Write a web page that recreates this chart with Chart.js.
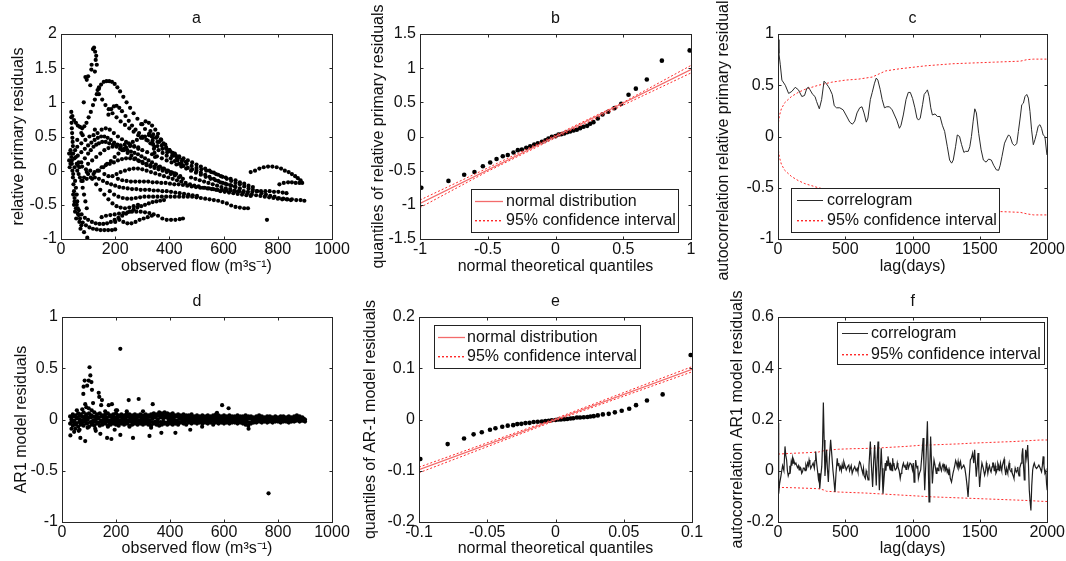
<!DOCTYPE html>
<html>
<head>
<meta charset="utf-8">
<script src="https://cdn.jsdelivr.net/npm/chart.js@4.4.1/dist/chart.umd.min.js"></script>
<style>
  body { margin: 0; background: #fff; }
  #wrap { position: relative; width: 1066px; height: 561px; overflow: hidden; }
  canvas { position: absolute; }
</style>
</head>
<body>
<div id="wrap">
  <canvas id="pa" width="360" height="280" style="left:0px;top:0px"></canvas>
  <canvas id="pb" width="352" height="280" style="left:360px;top:0px"></canvas>
  <canvas id="pc" width="354" height="280" style="left:712px;top:0px"></canvas>
  <canvas id="pd" width="360" height="281" style="left:0px;top:280px"></canvas>
  <canvas id="pe" width="352" height="281" style="left:360px;top:280px"></canvas>
  <canvas id="pf" width="354" height="281" style="left:712px;top:280px"></canvas>
</div>
<script>
// ---------- panel a : relative primary residuals vs observed flow ----------
const aTop = [[38,0.86],[42,0.8],[48,0.74],[55,0.7],[62,0.66],[70,0.64],[78,0.62],[86,0.65],[94,0.7],[102,0.78],[110,0.86],[118,0.96],[125,1.04],[132,1.12],[140,1.2],[148,1.26],[158,1.3],[168,1.31],[178,1.31],[188,1.3],[198,1.27],[208,1.22],[218,1.16],[230,1.08],[242,1.0],[255,0.92],[268,0.84],[282,0.76],[296,0.68],[310,0.61],[325,0.54],[340,0.48],[356,0.42],[372,0.37],[388,0.32],[404,0.28],[420,0.25],[436,0.21],[452,0.18],[468,0.15],[484,0.12],[500,0.09],[516,0.06],[532,0.03],[548,0.0],[564,-0.03],[580,-0.06],[596,-0.09],[612,-0.12],[628,-0.15],[644,-0.18],[660,-0.2],[676,-0.23],[692,-0.26],[708,-0.28],[724,-0.3],[740,-0.33],[756,-0.35],[772,-0.37],[788,-0.38],[804,-0.4],[820,-0.41],[836,-0.42],[852,-0.42],[868,-0.43],[884,-0.43],[898,-0.44]];
const aSpike = [[100,1.38],[108,1.25],[113,1.55],[118,1.78],[122,1.8],[126,1.74],[130,1.68],[128,1.62],[132,1.55],[112,1.48],[125,1.45],[90,1.37],[95,1.33],[140,1.22],[135,1.18],[84,1.0],[75,0.55]];
const aInner1 = [[140,1.12],[152,1.04],[164,0.96],[176,0.9],[190,0.84],[205,0.78],[220,0.72],[236,0.67],[252,0.62],[268,0.57],[285,0.52],[302,0.48],[320,0.44],[338,0.4],[356,0.36],[374,0.32],[392,0.27],[410,0.22],[428,0.18],[446,0.14],[464,0.1],[482,0.07],[500,0.04],[518,0.02],[536,0.0],[554,-0.02],[572,-0.05],[590,-0.08],[608,-0.1],[626,-0.12],[644,-0.14],[660,-0.17],[676,-0.19],[692,-0.22],[708,-0.24]];
const aInner2 = [[175,0.82],[185,0.9],[195,0.94],[205,0.95],[215,0.92],[225,0.87],[238,0.8],[250,0.73],[262,0.66],[275,0.6],[288,0.55],[300,0.5],[315,0.45],[330,0.4],[345,0.35],[360,0.3],[375,0.26],[390,0.22],[405,0.18],[420,0.14],[436,0.1],[452,0.07],[468,0.04],[484,0.02],[500,0.0],[516,-0.03],[532,-0.06],[548,-0.09],[564,-0.12],[580,-0.15],[596,-0.18],[612,-0.2],[628,-0.22],[644,-0.24],[660,-0.26]];
const aKnot = [[300,0.68],[312,0.72],[324,0.7],[336,0.66],[348,0.6],[358,0.54],[368,0.46],[378,0.4],[388,0.34],[400,0.3],[412,0.26],[424,0.22],[436,0.19],[448,0.16],[460,0.13],[335,0.5],[338,0.44],[340,0.38],[343,0.32],[345,0.26],[347,0.2],[330,0.58],[352,0.48],[362,0.42]];
const aMid1 = [[40,0.15],[50,0.18],[62,0.22],[75,0.27],[88,0.32],[100,0.37],[112,0.41],[124,0.45],[136,0.48],[148,0.5],[160,0.5],[172,0.48],[184,0.45],[196,0.41],[208,0.38],[220,0.35],[232,0.32],[245,0.3],[258,0.28],[271,0.26],[284,0.24],[297,0.21],[310,0.18],[323,0.15],[336,0.12],[350,0.09],[365,0.06],[380,0.03],[395,0.0],[410,-0.03],[425,-0.05],[440,-0.08]];
const aMid2 = [[50,0.05],[62,0.08],[75,0.12],[88,0.18],[100,0.25],[110,0.3],[120,0.35],[130,0.38],[140,0.4],[152,0.42],[165,0.42],[178,0.4],[192,0.38],[205,0.35],[218,0.32],[232,0.3],[246,0.26],[260,0.22],[274,0.18],[288,0.14],[302,0.11],[316,0.08],[330,0.06],[345,0.04],[360,0.02],[375,0.0],[390,-0.02],[405,-0.05],[420,-0.07],[435,-0.1],[450,-0.12]];
const aMid3 = [[45,0.25],[55,0.2],[65,0.12],[78,0.06],[92,0.02],[108,0.0],[124,-0.02],[140,0.0],[156,0.05],[170,0.1],[184,0.14],[198,0.2],[212,0.25],[226,0.3],[240,0.34],[255,0.36],[270,0.36],[285,0.34]];
const aMid4 = [[60,0.35],[75,0.4],[90,0.45],[105,0.5],[120,0.52],[135,0.55],[150,0.6],[165,0.62],[180,0.6],[195,0.55],[210,0.5],[225,0.46],[240,0.42],[255,0.38],[270,0.35],[285,0.32],[300,0.3],[318,0.27],[336,0.24],[354,0.21],[372,0.18],[390,0.15],[408,0.12],[426,0.09],[444,0.06],[462,0.03],[480,0.0],[498,-0.03],[516,-0.06],[534,-0.09],[552,-0.12],[570,-0.14],[588,-0.17],[606,-0.19],[624,-0.21],[642,-0.23]];
const aMid5 = [[100,0.1],[115,0.15],[130,0.2],[145,0.25],[160,0.3],[175,0.33],[190,0.35],[205,0.36],[220,0.37],[235,0.38],[250,0.4],[265,0.42],[280,0.45],[295,0.48],[310,0.5],[325,0.52],[340,0.53],[355,0.5],[370,0.45],[385,0.38],[400,0.3],[415,0.22],[430,0.15],[445,0.1]];
const aMid6 = [[120,-0.05],[135,0.0],[150,0.05],[165,0.08],[180,0.1],[195,0.12],[210,0.15],[225,0.17],[240,0.18],[255,0.18],[270,0.17],[285,0.15],[300,0.13],[315,0.1],[330,0.08],[345,0.06],[360,0.05],[375,0.03],[390,0.0],[405,-0.02],[420,-0.04]];
const aZero1 = [[160,-0.05],[175,-0.08],[190,-0.08],[205,-0.05],[220,-0.02],[236,0.0],[252,0.02],[268,0.03],[284,0.03],[300,0.02],[316,0.0],[332,-0.02],[348,-0.04],[364,-0.06],[380,-0.08],[396,-0.1],[412,-0.12],[428,-0.14],[444,-0.16],[460,-0.18],[476,-0.2],[492,-0.22],[508,-0.23],[524,-0.25],[540,-0.26],[556,-0.27],[572,-0.28],[588,-0.3],[604,-0.31],[620,-0.32],[636,-0.33],[652,-0.34],[668,-0.35],[684,-0.36],[700,-0.37]];
const aZero2 = [[210,-0.12],[226,-0.14],[242,-0.15],[258,-0.16],[274,-0.16],[290,-0.16],[306,-0.16],[322,-0.16],[338,-0.17],[354,-0.17],[370,-0.18],[386,-0.18],[402,-0.19],[418,-0.2],[434,-0.2],[450,-0.21],[466,-0.22],[482,-0.23],[498,-0.24],[514,-0.25],[530,-0.25],[546,-0.26],[562,-0.27],[578,-0.28],[594,-0.28],[610,-0.29],[626,-0.29],[642,-0.3],[658,-0.3],[674,-0.3],[690,-0.31],[706,-0.31],[722,-0.3],[738,-0.3],[754,-0.3],[770,-0.3],[786,-0.31],[802,-0.31],[818,-0.32],[832,-0.33]];
const aZero3 = [[80,-0.15],[95,-0.12],[110,-0.1],[125,-0.1],[140,-0.12],[155,-0.15],[170,-0.18],[185,-0.2],[200,-0.22],[215,-0.24],[230,-0.25],[246,-0.26],[262,-0.27],[278,-0.27],[294,-0.28],[310,-0.28],[326,-0.28],[342,-0.29],[358,-0.29],[374,-0.3],[390,-0.3],[406,-0.31],[422,-0.32],[438,-0.33],[454,-0.34],[470,-0.35],[486,-0.36],[502,-0.37]];
const aZero4 = [[480,-0.1],[496,-0.12],[512,-0.14],[528,-0.16],[544,-0.18],[560,-0.2],[576,-0.22],[592,-0.24],[608,-0.26],[624,-0.27],[640,-0.29],[656,-0.3],[672,-0.32],[688,-0.33],[704,-0.35],[720,-0.36],[736,-0.37],[752,-0.38],[768,-0.39],[784,-0.4],[800,-0.41],[816,-0.42],[832,-0.42],[848,-0.43]];
const aLoopRight = [[700,-0.02],[716,0.0],[732,0.03],[748,0.05],[764,0.06],[780,0.06],[796,0.05],[812,0.03],[826,0.0],[840,-0.02],[852,-0.05],[864,-0.08],[874,-0.11],[884,-0.14],[890,-0.18],[880,-0.18],[866,-0.18],[852,-0.17],[838,-0.17],[822,-0.18],[806,-0.2]];
const aLow1 = [[180,-0.3],[196,-0.35],[212,-0.38],[228,-0.4],[244,-0.41],[260,-0.41],[276,-0.4],[292,-0.39],[308,-0.38],[324,-0.38],[340,-0.38],[356,-0.38],[372,-0.38],[388,-0.38],[404,-0.38],[420,-0.38],[436,-0.38],[452,-0.38],[468,-0.38],[484,-0.38],[500,-0.39],[516,-0.4],[532,-0.41],[548,-0.42],[564,-0.43],[580,-0.44],[596,-0.46],[612,-0.48],[628,-0.51],[644,-0.53],[660,-0.54],[676,-0.55],[690,-0.55]];
const aLow2 = [[45,-0.35],[50,-0.45],[55,-0.55],[62,-0.63],[70,-0.7],[80,-0.76],[92,-0.8],[105,-0.83],[118,-0.85],[132,-0.86],[146,-0.87],[160,-0.87],[174,-0.87],[188,-0.87],[200,-0.86]];
const aLow3 = [[58,-0.5],[66,-0.58],[76,-0.64],[88,-0.69],[100,-0.72],[114,-0.75],[128,-0.77],[142,-0.78],[156,-0.78],[170,-0.77],[184,-0.75],[198,-0.72],[212,-0.69],[226,-0.66],[240,-0.63],[254,-0.6],[268,-0.57],[282,-0.54],[296,-0.52],[310,-0.5],[324,-0.48],[338,-0.46],[352,-0.45],[366,-0.44],[380,-0.43]];
const aLow4 = [[150,-0.68],[166,-0.66],[182,-0.65],[198,-0.64],[214,-0.63],[230,-0.62],[246,-0.61],[262,-0.6],[278,-0.6],[294,-0.6],[310,-0.61],[326,-0.62],[342,-0.64],[358,-0.66],[374,-0.7],[390,-0.72],[406,-0.72],[422,-0.72],[438,-0.71],[450,-0.7],[200,-0.75],[215,-0.72],[230,-0.75],[245,-0.77],[260,-0.77],[275,-0.75],[290,-0.72],[305,-0.7],[320,-0.68],[335,-0.66]];
const aLow5 = [[100,-0.05],[115,-0.12],[130,-0.2],[145,-0.28],[160,-0.35],[175,-0.42],[190,-0.48],[205,-0.52],[220,-0.54],[236,-0.55],[252,-0.54],[268,-0.52],[284,-0.5]];
const aLeft = [[35,0.3],[38,0.2],[40,0.1],[42,0.0],[44,-0.1],[46,-0.2],[48,-0.3],[50,-0.4],[40,0.25],[45,-0.05],[52,-0.15],[55,-0.25],[58,-0.35],[60,-0.45],[62,-0.55],[65,-0.65],[68,-0.75],[72,-0.85],[75,-0.8],[35,0.1],[30,0.15],[32,0.05],[60,0.0],[65,-0.05],[70,-0.1],[58,0.1],[80,-0.25],[85,-0.35],[90,-0.45],[95,-0.55],[38,0.78],[39,0.7],[40,0.62],[41,0.55],[42,0.48],[43,0.42],[44,0.36],[52,-0.6],[56,-0.7],[48,-0.5],[75,-0.15],[85,-0.1],[95,-0.02],[68,0.05],[30,0.25],[52,0.3]];
const aOutliers = [[97,-0.98],[85,-0.9],[760,-0.72],[80,0.52],[125,0.6],[60,0.45]];

// ---------- panel b : QQ plot of relative primary residuals ----------
const qqTheoB = [-0.99,-0.79,-0.674,-0.598,-0.536,-0.482,-0.435,-0.389,-0.352,-0.31,-0.278,-0.248,-0.216,-0.187,-0.157,-0.13,-0.1,-0.074,-0.052,-0.027,0,0.022,0.042,0.064,0.086,0.108,0.133,0.157,0.182,0.207,0.234,0.256,0.28,0.312,0.347,0.389,0.435,0.485,0.539,0.593,0.674,0.785,0.99];
const qqResB = [-0.75,-0.65,-0.56,-0.52,-0.435,-0.38,-0.33,-0.29,-0.27,-0.235,-0.2,-0.19,-0.165,-0.145,-0.117,-0.098,-0.078,-0.054,-0.03,-0.005,0.005,0.03,0.034,0.044,0.064,0.073,0.088,0.098,0.122,0.142,0.156,0.186,0.21,0.264,0.322,0.362,0.415,0.48,0.61,0.7,0.835,1.11,1.26];
const refXB = [-1, 1];
const refYB = [-0.98, 0.98];
const ciXB = [-1, -0.5, 0, 0.5, 1];
const ciHiB = [-0.93, -0.46, 0.02, 0.5, 1.04];
const ciLoB = [-1.04, -0.51, -0.02, 0.46, 0.93];

// ---------- panel c : correlogram of relative primary residuals ----------
const lagC = [0,7,17,29,54,79,103,128,152,177,197,214,226,238,258,275,287,307,324,342,356,373,386,403,418,435,459,484,509,533,553,570,587,607,624,639,656,668,686,700,717,730,742,759,774,791,808,828,848,865,882,902,914,931,951,968,983,1000,1017,1032,1044,1057,1074,1086,1103,1110,1123,1135,1147,1167,1184,1204,1221,1238,1258,1275,1290,1302,1319,1332,1349,1364,1381,1393,1413,1425,1437,1450,1462,1474,1491,1509,1526,1546,1565,1585,1602,1622,1639,1651,1664,1683,1700,1713,1725,1742,1757,1774,1786,1799,1811,1823,1835,1848,1860,1872,1884,1897,1909,1921,1933,1946,1958,1970,1983,1998];
const acfC = [0.945,0.81,0.7,0.55,0.5,0.42,0.44,0.48,0.455,0.39,0.4,0.47,0.48,0.455,0.41,0.39,0.34,0.27,0.36,0.54,0.52,0.49,0.46,0.41,0.3,0.28,0.28,0.26,0.2,0.14,0.12,0.15,0.23,0.28,0.29,0.23,0.14,0.18,0.36,0.43,0.52,0.57,0.55,0.46,0.36,0.28,0.29,0.29,0.26,0.21,0.16,0.08,0.11,0.21,0.36,0.43,0.43,0.37,0.28,0.18,0.16,0.18,0.31,0.41,0.44,0.455,0.39,0.28,0.21,0.22,0.195,0.195,0.11,0.05,-0.1,-0.23,-0.26,-0.23,-0.1,0.015,0.0,-0.08,-0.155,-0.145,-0.145,-0.1,0.0,0.15,0.27,0.23,0.03,-0.13,-0.23,-0.25,-0.22,-0.23,-0.28,-0.325,-0.33,-0.28,-0.195,-0.065,-0.016,0.016,0.0,-0.07,-0.088,-0.07,0.05,0.18,0.31,0.325,0.39,0.41,0.375,0.245,0.065,-0.08,-0.03,0.03,0.1,0.115,0.08,0.015,0.0,-0.18];
const ciLagC = [0,10,25,50,100,150,200,250,300,350,400,500,600,700,750,800,900,1000,1100,1200,1300,1400,1500,1600,1700,1800,1850,1900,2000];
const ciHiC = [0.1,0.2,0.27,0.33,0.39,0.43,0.46,0.48,0.5,0.515,0.53,0.55,0.56,0.58,0.61,0.64,0.66,0.675,0.69,0.7,0.71,0.715,0.72,0.725,0.73,0.735,0.75,0.755,0.755];
const ciLoC = [-0.1,-0.2,-0.27,-0.33,-0.39,-0.43,-0.46,-0.48,-0.5,-0.515,-0.53,-0.55,-0.56,-0.58,-0.61,-0.64,-0.66,-0.675,-0.69,-0.7,-0.71,-0.72,-0.725,-0.73,-0.735,-0.74,-0.755,-0.765,-0.765];

// ---------- panel d : AR1 model residuals vs observed flow ----------
const dBandTop = [[30,0.03],[40,0.05],[50,0.04],[60,0.06],[70,0.05],[80,0.07],[90,0.05],[100,0.06],[110,0.04],[120,0.07],[130,0.05],[140,0.06],[150,0.04],[160,0.05],[170,0.06],[180,0.04],[190,0.05],[200,0.06],[210,0.04],[220,0.05],[230,0.04],[240,0.06],[250,0.05],[260,0.04],[270,0.05],[280,0.04],[290,0.05],[300,0.04],[310,0.05],[320,0.04],[330,0.05],[340,0.06],[350,0.05],[360,0.07],[370,0.06],[380,0.07],[390,0.06],[400,0.05],[410,0.06],[420,0.04],[430,0.05],[440,0.04],[450,0.05],[460,0.04],[470,0.04],[480,0.05],[490,0.03],[500,0.04],[510,0.03],[520,0.04],[530,0.03],[540,0.04],[550,0.03],[560,0.04],[570,0.05],[580,0.04],[590,0.03],[600,0.04],[610,0.03],[620,0.04],[630,0.03],[640,0.03],[650,0.04],[660,0.03],[670,0.03],[680,0.04],[690,0.03],[700,0.03],[710,0.02],[720,0.03],[730,0.04],[740,0.03],[750,0.02],[760,0.03],[770,0.03],[780,0.02],[790,0.03],[800,0.02],[810,0.03],[820,0.03],[830,0.02],[840,0.03],[850,0.02],[860,0.03],[870,0.04],[880,0.03],[890,0.02]];
const dBandUpper = [[35,0.025],[45,0.03],[55,0.02],[65,0.035],[75,0.025],[85,0.03],[95,0.02],[105,0.035],[115,0.025],[125,0.03],[135,0.02],[145,0.03],[155,0.025],[165,0.02],[175,0.03],[185,0.025],[195,0.02],[205,0.03],[215,0.025],[225,0.02],[235,0.03],[245,0.025],[255,0.02],[265,0.03],[275,0.02],[285,0.025],[295,0.02],[305,0.03],[315,0.02],[325,0.025],[335,0.035],[345,0.04],[355,0.035],[365,0.04],[375,0.035],[385,0.04],[395,0.03],[405,0.035],[415,0.025],[425,0.03],[435,0.02],[445,0.025],[455,0.02],[465,0.025],[475,0.02],[485,0.02],[495,0.015],[505,0.02],[515,0.015],[525,0.02],[535,0.015],[545,0.02],[555,0.015],[565,0.02],[575,0.025],[585,0.02],[595,0.015],[605,0.02],[615,0.015],[625,0.02],[635,0.015],[645,0.015],[655,0.02],[665,0.015],[675,0.015],[685,0.02],[695,0.015],[705,0.015],[715,0.01],[725,0.015],[735,0.02],[745,0.015],[755,0.01],[765,0.015],[775,0.015],[785,0.01],[795,0.015],[805,0.01],[815,0.015],[825,0.015],[835,0.01],[845,0.015],[855,0.01],[865,0.015],[875,0.02],[885,0.015],[895,0.01]];
const dBandMid = [[35,0.0],[45,-0.01],[55,0.01],[65,0.0],[75,-0.01],[85,0.01],[95,0.0],[105,0.02],[115,-0.01],[125,0.0],[135,0.01],[145,-0.01],[155,0.0],[165,0.01],[175,-0.01],[185,0.0],[195,0.01],[205,0.0],[215,-0.01],[225,0.01],[235,0.0],[245,-0.01],[255,0.01],[265,0.0],[275,0.01],[285,-0.01],[295,0.0],[305,0.01],[315,0.0],[325,-0.01],[335,0.01],[345,0.02],[355,0.0],[365,0.02],[375,0.01],[385,0.02],[395,0.0],[405,0.01],[415,0.0],[425,-0.01],[435,0.01],[445,0.0],[455,-0.01],[465,0.0],[475,0.01],[485,0.0],[495,-0.01],[505,0.0],[515,0.01],[525,0.0],[535,-0.01],[545,0.0],[555,0.01],[565,0.0],[575,0.01],[585,0.0],[595,-0.01],[605,0.0],[615,0.01],[625,0.0],[635,-0.01],[645,0.0],[655,0.01],[665,0.0],[675,-0.01],[685,0.0],[695,0.01],[705,0.0],[715,-0.01],[725,0.0],[735,0.01],[745,0.0],[755,-0.01],[765,0.0],[775,0.01],[785,0.0],[795,-0.01],[805,0.0],[815,0.01],[825,0.0],[835,-0.01],[845,0.0],[855,0.01],[865,0.0],[875,0.01],[885,0.0],[895,-0.01],[900,0.0]];
const dBandLower = [[35,-0.025],[45,-0.03],[55,-0.035],[65,-0.025],[75,-0.03],[85,-0.02],[95,-0.035],[105,-0.025],[115,-0.03],[125,-0.02],[135,-0.03],[145,-0.025],[155,-0.03],[165,-0.02],[175,-0.03],[185,-0.025],[195,-0.02],[205,-0.03],[215,-0.025],[225,-0.02],[235,-0.03],[245,-0.025],[255,-0.02],[265,-0.03],[275,-0.02],[285,-0.025],[295,-0.03],[305,-0.02],[315,-0.025],[325,-0.03],[335,-0.025],[345,-0.02],[355,-0.03],[365,-0.025],[375,-0.02],[385,-0.03],[395,-0.025],[405,-0.02],[415,-0.025],[425,-0.02],[435,-0.025],[445,-0.02],[455,-0.025],[465,-0.015],[475,-0.02],[485,-0.025],[495,-0.015],[505,-0.02],[515,-0.015],[525,-0.02],[535,-0.015],[545,-0.02],[555,-0.015],[565,-0.025],[575,-0.015],[585,-0.02],[595,-0.015],[605,-0.02],[615,-0.015],[625,-0.02],[635,-0.015],[645,-0.015],[655,-0.02],[665,-0.015],[675,-0.02],[685,-0.025],[695,-0.03],[705,-0.02],[715,-0.015],[725,-0.015],[735,-0.01],[745,-0.015],[755,-0.01],[765,-0.015],[775,-0.01],[785,-0.015],[795,-0.01],[805,-0.01],[815,-0.015],[825,-0.01],[835,-0.01],[845,-0.015],[855,-0.01],[865,-0.01],[875,-0.005],[885,-0.01],[895,-0.005]];
const dBandLow = [[30,-0.04],[40,-0.06],[50,-0.05],[60,-0.07],[70,-0.05],[80,-0.06],[90,-0.04],[100,-0.07],[110,-0.05],[120,-0.06],[130,-0.04],[140,-0.06],[150,-0.05],[160,-0.04],[170,-0.06],[180,-0.05],[190,-0.04],[200,-0.05],[210,-0.06],[220,-0.04],[230,-0.05],[240,-0.04],[250,-0.06],[260,-0.05],[270,-0.04],[280,-0.05],[290,-0.04],[300,-0.05],[310,-0.04],[320,-0.05],[330,-0.06],[340,-0.04],[350,-0.05],[360,-0.06],[370,-0.05],[380,-0.04],[390,-0.05],[400,-0.04],[410,-0.05],[420,-0.04],[430,-0.05],[440,-0.03],[450,-0.04],[460,-0.05],[470,-0.03],[480,-0.04],[490,-0.03],[500,-0.04],[510,-0.03],[520,-0.04],[530,-0.03],[540,-0.04],[550,-0.03],[560,-0.05],[570,-0.03],[580,-0.04],[590,-0.03],[600,-0.04],[610,-0.03],[620,-0.04],[630,-0.03],[640,-0.03],[650,-0.04],[660,-0.03],[670,-0.04],[680,-0.05],[690,-0.06],[700,-0.04],[710,-0.03],[720,-0.03],[730,-0.02],[740,-0.03],[750,-0.02],[760,-0.03],[770,-0.02],[780,-0.03],[790,-0.02],[800,-0.02],[810,-0.03],[820,-0.02],[830,-0.02],[840,-0.03],[850,-0.02],[860,-0.02],[870,-0.01],[880,-0.02],[890,-0.01],[900,-0.02]];
const dScatter = [[35,-0.09],[45,-0.12],[55,0.09],[65,-0.1],[75,0.1],[90,0.12],[95,-0.08],[110,0.09],[125,-0.11],[160,0.08],[170,-0.07],[200,0.09],[240,0.08],[250,-0.07],[300,0.08],[330,-0.08],[216,0.69],[102,0.51],[105,0.43],[109,0.365],[84,0.38],[80,0.32],[79,0.25],[111,0.29],[93,0.33],[99,0.38],[136,0.26],[138,0.22],[148,0.19],[145,0.14],[86,0.15],[99,0.11],[115,0.16],[173,0.14],[185,0.15],[247,0.19],[284,0.2],[336,0.15],[204,0.09],[593,0.14],[617,0.11],[574,0.065],[31,-0.155],[68,-0.18],[86,-0.21],[62,-0.11],[142,-0.14],[167,-0.18],[183,-0.19],[216,-0.15],[263,-0.18],[324,-0.16],[368,-0.13],[420,-0.13],[475,-0.1],[519,-0.07],[691,-0.09],[195,-0.1],[123,-0.09],[49,-0.09],[765,-0.72]];

// ---------- panel e : QQ plot of AR-1 model residuals ----------
const qqTheoE = [-0.099,-0.079,-0.067,-0.06,-0.054,-0.048,-0.044,-0.039,-0.035,-0.031,-0.028,-0.025,-0.022,-0.019,-0.016,-0.013,-0.01,-0.0074,-0.005,-0.0027,0,0.002,0.004,0.0064,0.0086,0.011,0.013,0.0157,0.018,0.0207,0.0234,0.0256,0.028,0.031,0.0347,0.039,0.0435,0.0485,0.054,0.059,0.067,0.0785,0.099];
const qqResE = [-0.077,-0.048,-0.037,-0.029,-0.025,-0.02,-0.017,-0.014,-0.012,-0.011,-0.009,-0.0085,-0.007,-0.0065,-0.005,-0.0045,-0.004,-0.003,-0.0025,-0.0015,-0.001,0,0,0.0005,0.001,0.002,0.0025,0.004,0.004,0.0045,0.005,0.006,0.0065,0.008,0.01,0.011,0.014,0.017,0.021,0.028,0.037,0.049,0.126];
const refXE = [-0.1, 0.1];
const refYE = [-0.098, 0.098];
const ciXE = [-0.1, 0, 0.1];
const ciHiE = [-0.093, 0.002, 0.103];
const ciLoE = [-0.104, -0.002, 0.093];

// ---------- panel f : correlogram of AR1 model residuals ----------
const lagF = [0,5,12,22,34,44,52,58,64,70,76,82,88,93,98,103,108,113,118,126,133,139,145,151,157,163,170,176,182,188,195,201,207,213,220,226,231,237,243,252,261,270,275,280,287,293,300,305,310,318,325,331,337,343,349,355,361,367,374,382,391,400,408,416,423,431,440,446,452,458,465,471,477,483,489,498,507,516,526,532,538,544,551,560,570,580,588,594,600,606,612,620,630,635,640,649,655,660,669,676,686,694,703,710,718,724,730,736,743,748,753,760,767,773,780,788,797,802,807,812,817,825,830,834,839,843,848,852,857,861,866,871,881,886,891,900,908,914,920,926,932,938,945,951,957,963,969,975,981,990,999,1005,1011,1017,1023,1028,1033,1038,1043,1051,1060,1069,1078,1084,1090,1100,1110,1116,1122,1128,1134,1140,1147,1153,1159,1167,1176,1181,1186,1191,1196,1202,1208,1214,1220,1226,1233,1239,1245,1251,1257,1263,1269,1275,1280,1289,1300,1307,1314,1320,1326,1332,1338,1344,1350,1356,1363,1372,1380,1388,1397,1405,1412,1420,1429,1437,1446,1454,1461,1467,1473,1480,1486,1492,1498,1506,1515,1525,1535,1543,1548,1552,1559,1565,1571,1577,1583,1590,1595,1601,1606,1610,1614,1619,1623,1628,1633,1638,1643,1648,1653,1658,1662,1667,1671,1675,1680,1684,1688,1692,1697,1702,1707,1712,1717,1722,1727,1732,1736,1740,1745,1749,1753,1757,1762,1766,1771,1776,1781,1786,1791,1796,1801,1806,1812,1818,1824,1830,1835,1840,1848,1855,1861,1867,1873,1879,1885,1892,1898,1904,1912,1921,1930,1938,1948,1958,1964,1970,1976,1983,1990,1995,2000];
const acfF = [0.187,-0.09,-0.05,-0.02,0.02,0.0,0.095,0.06,0.042,0.0,-0.02,-0.01,0.02,0.005,0.035,0.02,0.049,0.03,0.04,0.025,0.03,0.02,0.012,0.02,0.003,0.015,0.01,-0.01,-0.004,0.01,0.01,0.0,0.022,0.01,0.03,0.02,0.042,0.025,0.009,0.02,0.03,0.01,0.04,0.075,0.03,0.003,-0.03,-0.01,-0.07,-0.02,0.016,0.1,0.266,0.12,-0.02,0.03,0.082,0.01,-0.044,0.05,0.121,0.06,0.003,-0.04,-0.083,-0.01,0.049,0.02,0.03,0.005,0.016,0.0,0.025,0.01,0.036,0.02,0.003,0.015,0.022,0.0,0.01,0.02,-0.01,0.005,0.016,0.0,0.009,-0.005,0.02,0.035,0.03,0.01,-0.01,0.01,-0.02,-0.03,0.0,-0.01,-0.036,0.02,0.114,0.02,-0.063,0.03,0.1,0.02,-0.057,0.04,0.114,0.01,-0.076,0.0,0.088,0.01,-0.09,-0.03,0.03,0.0,0.04,0.02,0.056,0.03,0.01,0.003,0.025,0.02,0.0,0.049,0.02,0.03,0.01,0.003,0.01,0.03,0.016,0.0,-0.03,-0.01,0.0,0.02,0.03,0.015,0.02,0.005,0.022,0.03,0.01,0.02,0.03,0.025,0.003,0.03,-0.044,0.0,0.042,0.02,0.01,0.02,-0.03,-0.01,0.003,0.06,0.128,0.02,-0.076,0.05,0.193,0.03,-0.122,0.02,0.134,0.04,-0.05,0.0,0.042,0.02,-0.01,0.01,0.01,0.0,0.022,0.03,0.01,0.0,0.016,0.025,0.01,0.02,0.003,0.015,-0.005,0.005,-0.017,0.0,-0.03,-0.044,-0.01,0.005,0.022,0.04,0.03,0.015,0.036,0.01,0.02,0.035,0.009,0.015,0.022,0.01,-0.023,-0.06,-0.102,-0.03,0.042,0.05,0.069,0.03,0.082,0.03,-0.023,0.02,0.069,0.0,-0.063,-0.01,0.03,0.01,-0.017,0.0,0.03,0.022,-0.01,0.01,0.02,0.003,-0.005,0.015,0.03,0.03,0.0,0.01,0.02,-0.01,-0.005,0.005,0.03,0.022,0.0,0.015,0.03,0.009,0.0,0.02,0.02,0.036,0.045,0.01,0.0,-0.017,0.01,0.0,-0.01,0.016,0.03,0.005,0.0,-0.004,0.01,-0.01,-0.01,-0.023,-0.03,-0.01,0.01,0.003,-0.005,0.0,0.015,-0.01,-0.02,0.01,0.02,0.03,0.06,0.088,0.02,-0.036,0.02,0.082,0.05,0.1,0.02,-0.076,-0.12,-0.155,-0.06,0.003,0.02,0.03,0.015,0.009,0.015,0.022,0.01,-0.004,0.02,0.056,0.02,-0.01,0.0,-0.05,-0.076];
const ciLagF = [0,100,200,300,340,360,450,550,650,750,850,950,1050,1150,1250,1350,1450,1550,1650,1750,1850,1950,2000];
const ciHiF = [0.065,0.068,0.07,0.073,0.078,0.08,0.084,0.086,0.087,0.089,0.092,0.095,0.099,0.101,0.103,0.105,0.108,0.11,0.112,0.114,0.117,0.12,0.12];
const ciLoF = [-0.065,-0.066,-0.068,-0.07,-0.075,-0.08,-0.083,-0.085,-0.087,-0.09,-0.093,-0.096,-0.099,-0.102,-0.104,-0.106,-0.108,-0.11,-0.112,-0.114,-0.116,-0.119,-0.12];

// ---------------------------------------------------------------------------
const FONT = "'Liberation Sans', Arial, sans-serif";
Chart.defaults.font.family = FONT;
Chart.defaults.font.size = 16;
Chart.defaults.color = '#111';

const RED_SOLID = '#f36b6b';
const RED_DOT = '#ff2a2a';

const pairs = (arr) => arr.map(p => ({ x: p[0], y: p[1] }));
const zip = (xs, ys) => xs.map((x, i) => ({ x: x, y: ys[i] }));
const fmt = (v) => String(+v.toFixed(4));

// box, inside ticks, panel letter, y title and legend, drawn the matlab way
const matlabBox = {
  id: 'matlabBox',
  afterDraw(chart, args, o) {
    const { ctx, chartArea: a, scales } = chart;
    ctx.save();

    if (o.legend) {
      const L = o.legend;
      ctx.fillStyle = '#fff';
      ctx.fillRect(L.box[0], L.box[1], L.box[2] - L.box[0], L.box[3] - L.box[1]);
      ctx.strokeStyle = '#222';
      ctx.lineWidth = 1;
      ctx.strokeRect(L.box[0] + 0.5, L.box[1] + 0.5, L.box[2] - L.box[0], L.box[3] - L.box[1]);
      L.rows.forEach(r => {
        if (r.dotted) {
          // dotted sample as little red dashes
          ctx.fillStyle = r.color;
          for (let x = L.x1; x < L.x2; x += 4) ctx.fillRect(x, r.y, 2, 1.4);
        } else {
          ctx.strokeStyle = r.color;
          ctx.lineWidth = r.width || 1;
          ctx.beginPath();
          ctx.moveTo(L.x1, r.y + 0.5);
          ctx.lineTo(L.x2, r.y + 0.5);
          ctx.stroke();
        }
        ctx.fillStyle = '#111';
        ctx.font = '16px ' + FONT;
        ctx.textAlign = 'left';
        ctx.textBaseline = 'middle';
        ctx.fillText(r.text, L.tx, r.y + 1);
      });
    }

    ctx.strokeStyle = '#262626';
    ctx.lineWidth = 1;
    const l = Math.round(a.left) + 0.5, r = Math.round(a.right) + 0.5;
    const t = Math.round(a.top) + 0.5, b = Math.round(a.bottom) + 0.5;
    ctx.beginPath();
    scales.x.ticks.forEach(tk => {
      const px = Math.round(scales.x.getPixelForValue(tk.value)) + 0.5;
      ctx.moveTo(px, b); ctx.lineTo(px, b - 3);
      ctx.moveTo(px, t); ctx.lineTo(px, t + 3);
    });
    scales.y.ticks.forEach(tk => {
      const py = Math.round(scales.y.getPixelForValue(tk.value)) + 0.5;
      ctx.moveTo(l, py); ctx.lineTo(l + 3, py);
      ctx.moveTo(r, py); ctx.lineTo(r - 3, py);
    });
    ctx.stroke();
    ctx.strokeRect(l, t, r - l, b - t);

    ctx.fillStyle = '#111';
    ctx.font = '16px ' + FONT;
    ctx.textAlign = 'center';
    ctx.textBaseline = 'middle';
    ctx.fillText(o.letter, (a.left + a.right) / 2, o.letterY);

    ctx.translate(o.yTitleX, (a.top + a.bottom) / 2);
    ctx.rotate(-Math.PI / 2);
    ctx.fillText(o.yTitle, 0, 0);
    ctx.restore();
  }
};

function panel(id, cfg) {
  const row2 = cfg.row2;
  new Chart(document.getElementById(id), {
    type: 'scatter',
    data: { datasets: cfg.datasets },
    plugins: [matlabBox],
    options: {
      responsive: false,
      animation: false,
      devicePixelRatio: 1,
      layout: { autoPadding: false, padding: { left: 0, top: row2 ? 37 : 34, right: cfg.padRight, bottom: 1 } },
      plugins: {
        legend: { display: false },
        tooltip: { enabled: false },
        matlabBox: { letter: cfg.letter, letterY: row2 ? 22 : 19, yTitle: cfg.yTitle, yTitleX: cfg.yTitleX, legend: cfg.legend }
      },
      scales: {
        x: {
          type: 'linear', min: cfg.x[0], max: cfg.x[1],
          grid: { display: false, drawTicks: false },
          border: { display: false },
          ticks: { stepSize: cfg.x[2], padding: 1, autoSkip: false, maxRotation: 0, callback: fmt, color: '#111' },
          title: { display: true, text: cfg.xTitle, padding: { top: 0, bottom: row2 ? 1.4 : 2.4 }, color: '#111' },
          afterFit: (s) => { s.height = row2 ? 38 : 40; }
        },
        y: {
          type: 'linear', min: cfg.y[0], max: cfg.y[1],
          grid: { display: false, drawTicks: false },
          border: { display: false },
          ticks: { stepSize: cfg.y[2], padding: 4, autoSkip: false, callback: fmt, color: '#111' },
          afterFit: (s) => { s.width = cfg.yWidth; }
        }
      }
    }
  });
}

const dotSet = (data, r) => ({ data: data, pointRadius: r || 2.1, pointBackgroundColor: '#000', pointBorderWidth: 0, showLine: false });
const lineSet = (label, data, color, dash, width) => ({
  label: label, data: data, showLine: true, pointRadius: 0, borderColor: color,
  borderWidth: width || 1, borderDash: dash, tension: 0
});

const qqLegendRows = (y1, y2) => [
  { y: y1, text: 'normal distribution', color: RED_SOLID, width: 1.3 },
  { y: y2, text: '95% confidence interval', color: RED_DOT, dotted: true }
];
const acfLegendRows = (y1, y2) => [
  { y: y1, text: 'correlogram', color: '#2a2a2a' },
  { y: y2, text: '95% confidence interval', color: RED_DOT, dotted: true }
];

// a
const allA = [].concat(aTop, aSpike, aInner1, aInner2, aKnot, aMid1, aMid2, aMid3, aMid4, aMid5, aMid6, aZero1, aZero2, aZero3, aZero4, aLoopRight, aLow1, aLow2, aLow3, aLow4, aLow5, aLeft, aOutliers);
panel('pa', {
  letter: 'a', yTitle: 'relative primary residuals', yTitleX: 19, yWidth: 61, padRight: 28,
  xTitle: 'observed flow (m³s⁻¹)', x: [0, 1000, 200], y: [-1, 2, 0.5],
  datasets: [dotSet(pairs(allA))]
});

// b
panel('pb', {
  letter: 'b', yTitle: 'quantiles of relative primary residuals', yTitleX: 19, yWidth: 60, padRight: 21,
  xTitle: 'normal theoretical quantiles', x: [-1, 1, 0.5], y: [-1.5, 1.5, 0.5],
  datasets: [
    lineSet('normal distribution', zip(refXB, refYB), RED_SOLID, [], 1.3),
    lineSet('95% confidence interval', zip(ciXB, ciHiB), RED_DOT, [2, 2]),
    lineSet('95% confidence interval', zip(ciXB, ciLoB), RED_DOT, [2, 2]),
    dotSet(zip(qqTheoB, qqResB), 2.3)
  ],
  legend: { box: [111, 189, 318, 232], x1: 115, x2: 143, tx: 146, rows: qqLegendRows(201, 220) }
});

// c
panel('pc', {
  letter: 'c', yTitle: 'autocorrelation relative primary residuals', yTitleX: 12, yWidth: 66, padRight: 17,
  xTitle: 'lag(days)', x: [0, 2000, 500], y: [-1, 1, 0.5],
  datasets: [
    lineSet('correlogram', zip(lagC, acfC), '#2a2a2a', [], 1),
    lineSet('95% confidence interval', zip(ciLagC, ciHiC), RED_DOT, [2, 2]),
    lineSet('95% confidence interval', zip(ciLagC, ciLoC), RED_DOT, [2, 2])
  ],
  legend: { box: [79, 188, 287, 232], x1: 85, x2: 111, tx: 115, rows: acfLegendRows(200, 220) }
});

// d
const allD = [].concat(dBandTop, dBandUpper, dBandMid, dBandLower, dBandLow, dScatter);
panel('pd', {
  row2: true, letter: 'd', yTitle: 'AR1 model residuals', yTitleX: 22, yWidth: 62, padRight: 28,
  xTitle: 'observed flow (m³s⁻¹)', x: [0, 1000, 200], y: [-1, 1, 0.5],
  datasets: [dotSet(pairs(allD))]
});

// e
panel('pe', {
  row2: true, letter: 'e', yTitle: 'quantiles of AR-1 model residuals', yTitleX: 11, yWidth: 59, padRight: 20,
  xTitle: 'normal theoretical quantiles', x: [-0.1, 0.1, 0.05], y: [-0.2, 0.2, 0.1],
  datasets: [
    lineSet('normal distribution', zip(refXE, refYE), RED_SOLID, [], 1.3),
    lineSet('95% confidence interval', zip(ciXE, ciHiE), RED_DOT, [2, 2]),
    lineSet('95% confidence interval', zip(ciXE, ciLoE), RED_DOT, [2, 2]),
    dotSet(zip(qqTheoE, qqResE), 2.3)
  ],
  legend: { box: [74, 45, 280, 88], x1: 78, x2: 105, tx: 107, rows: qqLegendRows(57, 76) }
});

// f
panel('pf', {
  row2: true, letter: 'f', yTitle: 'autocorrelation AR1 model residuals', yTitleX: 26, yWidth: 66, padRight: 17,
  xTitle: 'lag(days)', x: [0, 2000, 500], y: [-0.2, 0.6, 0.2],
  datasets: [
    lineSet('correlogram', zip(lagF, acfF), '#1e1e1e', [], 1.2),
    lineSet('95% confidence interval', zip(ciLagF, ciHiF), RED_DOT, [2, 2]),
    lineSet('95% confidence interval', zip(ciLagF, ciLoF), RED_DOT, [2, 2])
  ],
  legend: { box: [125, 42, 332, 84], x1: 130, x2: 156, tx: 159, rows: acfLegendRows(53, 74) }
});
</script>
</body>
</html>
